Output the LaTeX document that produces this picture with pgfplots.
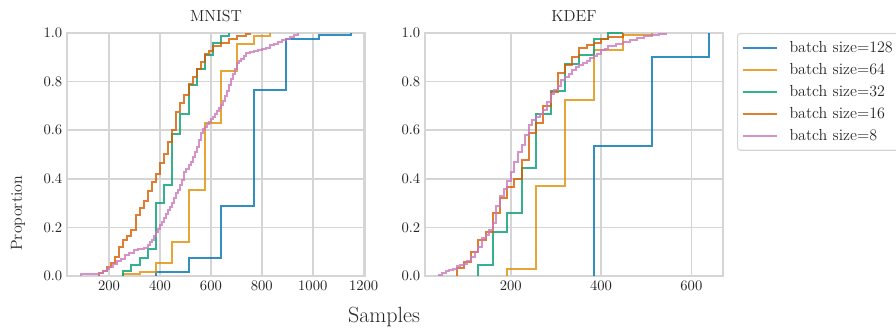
\documentclass[border=0pt]{standalone}
\usepackage{pgfplots}
\pgfplotsset{compat=1.18}
\definecolor{c128}{HTML}{0173B2}
\definecolor{c64}{HTML}{DE8F05}
\definecolor{c32}{HTML}{029E73}
\definecolor{c16}{HTML}{D55E00}
\definecolor{c8}{HTML}{CC78BC}
\definecolor{gridc}{HTML}{D5D5D5}
\definecolor{txt}{HTML}{262626}
\pgfplotsset{
  myax/.style={
    scale only axis, width=223.5pt, height=182.25pt,
    ymin=0, ymax=1, ytick={0,0.2,0.4,0.6,0.8,1},
    yticklabel style={/pgf/number format/.cd, fixed, fixed zerofill, precision=1},
    xticklabel style={/pgf/number format/.cd, fixed, 1000 sep={}},
    grid=major, major grid style={gridc, line width=1.25pt},
    axis line style={gridc, line width=1.25pt},
    tick style={draw=none},
    tick label style={font=\fontsize{10.5}{12}\selectfont, text=txt},
    title style={font=\fontsize{12}{14}\selectfont, text=txt, yshift=-1pt},
    every axis plot/.append style={const plot, line width=1.5pt, opacity=0.8, no marks,
      legend image code/.code={\draw[##1] (0pt,0pt) -- (25.5pt,0pt);}},
  }
}
\begin{document}
\begin{tikzpicture}
\begin{axis}[myax, at={(50.25pt,39pt)}, anchor=south west,
  title={MNIST}, xmin=34.8, xmax=1205.2, xtick={200,400,600,800,1000,1200}]
\addplot[c128] coordinates {(384,0) (384,0.015) (512,0.075) (640,0.29) (768,0.765) (896,0.975) (1024,0.99) (1152,1.0)};
\addplot[c64] coordinates {(256,0) (256,0.008) (320,0.018) (384,0.055) (448,0.141) (512,0.354) (576,0.629) (640,0.845) (704,0.956) (768,0.986) (832,1.0)};
\addplot[c32] coordinates {(256,0) (256,0.02) (288,0.045) (320,0.073) (352,0.11) (384,0.30) (416,0.375) (448,0.584) (480,0.666) (512,0.787) (544,0.852) (576,0.91) (608,0.959) (640,0.986) (672,1.0)};
\addplot[c16] coordinates {(160,0) (160,0.012) (176,0.02) (192,0.035) (208,0.055) (224,0.08) (240,0.12) (256,0.15) (272,0.165) (288,0.19) (304,0.25) (320,0.28) (336,0.31) (352,0.35) (368,0.385) (384,0.42) (400,0.465) (416,0.50) (432,0.55) (448,0.60) (464,0.675) (480,0.71) (496,0.745) (512,0.79) (528,0.82) (544,0.85) (560,0.88) (576,0.914) (592,0.927) (608,0.946) (640,0.96) (672,0.975) (704,0.988) (736,0.996) (752,1.0)};
\addplot[c8] coordinates {(88,0) (88,0.008) (160,0.014) (176,0.02) (192,0.03) (200,0.038) (216,0.05) (232,0.062) (248,0.072) (264,0.086) (280,0.095) (296,0.107) (312,0.11) (336,0.115) (352,0.128) (360,0.138) (368,0.148) (376,0.165) (384,0.18) (392,0.195) (400,0.21) (408,0.223) (416,0.24) (424,0.255) (432,0.27) (440,0.285) (448,0.30) (456,0.32) (464,0.34) (472,0.355) (480,0.375) (488,0.395) (496,0.43) (504,0.44) (512,0.455) (520,0.47) (528,0.49) (536,0.51) (544,0.53) (552,0.56) (560,0.59) (568,0.605) (576,0.615) (584,0.625) (592,0.635) (600,0.645) (608,0.656) (616,0.665) (624,0.68) (632,0.69) (640,0.705) (648,0.72) (656,0.74) (664,0.76) (672,0.785) (680,0.81) (688,0.83) (696,0.85) (704,0.875) (712,0.885) (720,0.895) (728,0.905) (736,0.916) (752,0.92) (768,0.925) (784,0.93) (800,0.935) (816,0.94) (832,0.95) (848,0.955) (864,0.962) (880,0.97) (896,0.976) (912,0.982) (928,0.99) (944,1.0)};
\end{axis}
\begin{axis}[myax, at={(318.75pt,39pt)}, anchor=south west,
  title={KDEF}, xmin=10, xmax=670, xtick={200,400,600},
  legend style={at={(1.047,1)}, anchor=north west, draw=gridc, line width=0.8pt, rounded corners=2pt,
    font=\fontsize{12}{14}\selectfont, text=txt, row sep=2.6pt, column sep=7pt,
    inner xsep=3pt, inner ysep=4pt},
  legend cell align=left]
\addplot[c128] coordinates {(384,0) (384,0.535) (512,0.90) (640,1.0)};
\addlegendentry{batch size=128}
\addplot[c64] coordinates {(192,0) (192,0.027) (256,0.372) (320,0.725) (384,0.929) (448,0.99) (512,1.0)};
\addlegendentry{batch size=64}
\addplot[c32] coordinates {(128,0) (128,0.045) (160,0.18) (192,0.26) (224,0.444) (256,0.666) (288,0.76) (320,0.874) (352,0.91) (384,0.975) (416,1.0) (448,1.0)};
\addlegendentry{batch size=32}
\addplot[c16] coordinates {(80,0) (80,0.032) (96,0.059) (112,0.10) (128,0.148) (144,0.182) (160,0.26) (176,0.32) (192,0.367) (208,0.40) (224,0.477) (240,0.59) (256,0.63) (272,0.70) (288,0.758) (304,0.834) (320,0.868) (336,0.90) (352,0.937) (368,0.95) (384,0.96) (400,0.975) (416,0.985) (448,1.0)};
\addlegendentry{batch size=16}
\addplot[c8] coordinates {(40,0) (40,0.006) (48,0.014) (56,0.02) (64,0.025) (72,0.03) (80,0.04) (88,0.045) (96,0.05) (104,0.06) (112,0.08) (120,0.1) (128,0.12) (136,0.155) (144,0.17) (152,0.19) (160,0.22) (168,0.29) (176,0.33) (184,0.36) (192,0.39) (200,0.43) (208,0.47) (216,0.51) (224,0.54) (232,0.58) (240,0.62) (248,0.64) (256,0.655) (264,0.668) (272,0.683) (280,0.717) (288,0.75) (296,0.765) (304,0.78) (312,0.807) (320,0.82) (328,0.83) (336,0.848) (344,0.86) (352,0.87) (360,0.878) (368,0.885) (376,0.896) (384,0.905) (392,0.915) (400,0.93) (408,0.935) (416,0.945) (432,0.955) (448,0.962) (464,0.972) (480,0.98) (496,0.986) (512,0.993) (528,0.996) (544,1.0)};
\addlegendentry{batch size=8}
\end{axis}
\node[rotate=90, text=txt, font=\fontsize{12}{14}\selectfont] at (13.5pt,86pt) {Proportion};
\node[text=txt, font=\fontsize{16.5}{19}\selectfont] at (288pt,8.5pt) {Samples};
\pgfresetboundingbox
\useasboundingbox (0,0) rectangle (672pt,246pt);
\end{tikzpicture}
\end{document}
